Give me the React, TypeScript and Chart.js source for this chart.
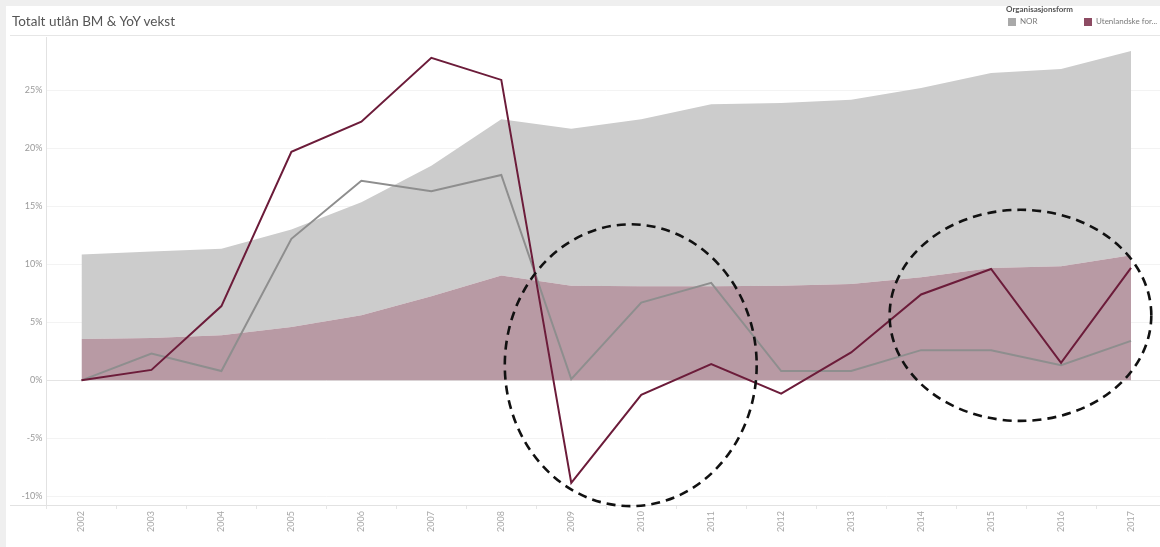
import React, { useEffect, useRef } from "react";
import { Chart, registerables } from "chart.js";

Chart.register(...registerables);

// Years on the category axis
const years = [
  "2002", "2003", "2004", "2005", "2006", "2007", "2008", "2009",
  "2010", "2011", "2012", "2013", "2014", "2015", "2016", "2017",
];

// Year-on-year growth in lending (%)
const norGrowth = [0, 2.3, 0.8, 12.2, 17.2, 16.3, 17.7, 0.1, 6.7, 8.4, 0.8, 0.8, 2.6, 2.6, 1.3, 3.4];
const foreignGrowth = [0, 0.9, 6.4, 19.7, 22.3, 27.8, 25.9, -8.85, -1.25, 1.4, -1.15, 2.4, 7.4, 9.6, 1.5, 9.7];

// Total lending (stacked areas), expressed in the growth axis units
const foreignLending = [3.57, 3.65, 3.88, 4.6, 5.6, 7.24, 9.03, 8.16, 8.1, 8.1, 8.16, 8.3, 8.88, 9.69, 9.83, 10.78];
const norLending = [7.27, 7.45, 7.47, 8.4, 9.75, 11.26, 13.47, 13.54, 14.4, 15.7, 15.74, 15.9, 16.32, 16.81, 17.02, 17.62];

// Axis ticks (%)
const yTicks = [-10, -5, 0, 5, 10, 15, 20, 25];
const yMin = -10.75;
const yMax = 29.6;

// Series names
const seriesNames = ["NOR", "Utenlandske foretak"];
const legendTitle = "Organisasjonsform";
const legendLabels = ["NOR", "Utenlandske for..."];
const chartTitle = "Totalt utlån BM & YoY vekst";

// Dashed highlight rings, in data units (category index, percent)
const highlightRings = [
  { x: 7.85, y: 1.3, rx: 1.8, ry: 12.15 },
  { x: 13.42, y: 5.6, rx: 1.87, ry: 9.1 },
];

const COLORS = {
  norArea: "#cccccc",
  foreignArea: "#b89aa4",
  norLine: "#8e8e8e",
  foreignLine: "#6c1c3a",
  norSwatch: "#a9a9a9",
  foreignSwatch: "#8d4b63",
};

const FONT = "Lato, 'Noto Sans', sans-serif";

const ringsPlugin = {
  id: "highlightRings",
  afterDatasetsDraw(chart: any) {
    const { ctx, scales } = chart;
    const x = scales.x;
    const y = scales.y;
    ctx.save();
    ctx.strokeStyle = "#111111";
    ctx.lineWidth = 2.6;
    ctx.setLineDash([9, 6]);
    for (const r of highlightRings) {
      const cx = x.getPixelForValue(r.x);
      const cy = y.getPixelForValue(r.y);
      const rx = Math.abs(x.getPixelForValue(r.x + r.rx) - cx);
      const ry = Math.abs(y.getPixelForValue(r.y + r.ry) - cy);
      ctx.beginPath();
      ctx.ellipse(cx, cy, rx, ry, 0, 0, Math.PI * 2);
      ctx.stroke();
    }
    ctx.restore();
  },
  afterDraw(chart: any) {
    // baseline continues under the axis header
    const { ctx, chartArea } = chart;
    ctx.save();
    ctx.strokeStyle = "#e2e2e2";
    ctx.lineWidth = 1;
    ctx.beginPath();
    ctx.moveTo(10, Math.round(chartArea.bottom) + 0.5);
    ctx.lineTo(chartArea.left, Math.round(chartArea.bottom) + 0.5);
    ctx.stroke();
    ctx.restore();
  },
};

export default function App() {
  const canvasRef = useRef<HTMLCanvasElement | null>(null);

  useEffect(() => {
    if (!canvasRef.current) return;
    const chart = new Chart(canvasRef.current, {
      type: "line",
      data: {
        labels: years,
        datasets: [
          {
            label: seriesNames[1] + " YoY",
            data: foreignGrowth,
            borderColor: COLORS.foreignLine,
            borderWidth: 2,
            pointRadius: 0,
            tension: 0,
            fill: false,
            yAxisID: "y",
            order: 0,
          },
          {
            label: seriesNames[0] + " YoY",
            data: norGrowth,
            borderColor: COLORS.norLine,
            borderWidth: 2,
            pointRadius: 0,
            tension: 0,
            fill: false,
            yAxisID: "y",
            order: 1,
          },
          {
            label: seriesNames[1],
            data: foreignLending,
            borderWidth: 0,
            borderColor: "rgba(0,0,0,0)",
            backgroundColor: COLORS.foreignArea,
            pointRadius: 0,
            tension: 0,
            fill: "origin",
            yAxisID: "yArea",
            order: 2,
          },
          {
            label: seriesNames[0],
            data: norLending,
            borderWidth: 0,
            borderColor: "rgba(0,0,0,0)",
            backgroundColor: COLORS.norArea,
            pointRadius: 0,
            tension: 0,
            fill: "-1",
            yAxisID: "yArea",
            order: 3,
          },
        ],
      },
      options: {
        animation: false,
        responsive: false,
        maintainAspectRatio: false,
        layout: { padding: { top: 37, left: 0, right: 0, bottom: 0 } },
        plugins: {
          legend: { display: false },
          title: { display: false },
          tooltip: { enabled: false },
        },
        scales: {
          x: {
            type: "category",
            offset: true,
            grid: {
              display: true,
              offset: true,
              drawOnChartArea: false,
              drawTicks: true,
              tickLength: 4,
              color: "#e6e6e6",
            },
            border: { display: true, color: "#e2e2e2" },
            ticks: {
              autoSkip: false,
              minRotation: 90,
              maxRotation: 90,
              padding: 2,
              color: "#a8a8a8",
              font: { family: FONT, size: 9 },
            },
            afterFit: (s: any) => {
              s.height = 42;
              s.paddingLeft = 0;
              s.paddingRight = 0;
            },
          },
          y: {
            type: "linear",
            position: "left",
            min: yMin,
            max: yMax,
            afterBuildTicks: (s: any) => {
              s.ticks = yTicks.map((v) => ({ value: v }));
            },
            ticks: {
              callback: (v: any) => `${v}%`,
              padding: 4,
              color: "#9a9a9a",
              font: { family: FONT, size: 9 },
            },
            grid: {
              drawTicks: false,
              color: (c: any) => (c.tick && c.tick.value === 0 ? "#e4e4e4" : "#f3f3f3"),
            },
            border: { display: true, color: "#e2e2e2" },
            afterFit: (s: any) => {
              s.width = 46.5;
              s.paddingTop = 0;
              s.paddingBottom = 0;
            },
          },
          yArea: {
            type: "linear",
            display: false,
            stacked: true,
            min: yMin,
            max: yMax,
          },
        },
      },
      plugins: [ringsPlugin],
    });
    return () => chart.destroy();
  }, []);

  return (
    <div
      style={{
        position: "absolute",
        left: 0,
        top: 0,
        width: 1160,
        height: 547,
        background: "#efefef",
        overflow: "hidden",
        fontFamily: FONT,
      }}
    >
      <div
        style={{
          position: "absolute",
          left: 6,
          top: 6,
          right: 0,
          bottom: 0,
          background: "#ffffff",
        }}
      />
      <div
        style={{
          position: "absolute",
          left: 10,
          right: 0,
          top: 35,
          height: 1,
          background: "#e6e6e6",
        }}
      />
      <canvas
        ref={canvasRef}
        width={1166}
        height={547}
        style={{ position: "absolute", left: 0, top: 0, width: 1166, height: 547 }}
      />
      <div
        style={{
          position: "absolute",
          left: 12,
          top: 13,
          fontSize: 13.5,
          lineHeight: "16px",
          color: "#555555",
          whiteSpace: "nowrap",
        }}
      >
        {chartTitle}
      </div>
      <div
        style={{
          position: "absolute",
          left: 1006,
          top: 4,
          fontSize: 8,
          lineHeight: "10px",
          fontWeight: 700,
          color: "#555555",
          whiteSpace: "nowrap",
        }}
      >
        {legendTitle}
      </div>
      {legendLabels.map((name, i) => (
        <div
          key={name}
          style={{
            position: "absolute",
            left: i === 0 ? 1008 : 1084,
            top: 17,
            height: 9,
            display: "flex",
            alignItems: "center",
            whiteSpace: "nowrap",
          }}
        >
          <span
            style={{
              display: "inline-block",
              width: 8,
              height: 8,
              background: i === 0 ? COLORS.norSwatch : COLORS.foreignSwatch,
              marginRight: 4,
            }}
          />
          <span style={{ fontSize: 8, lineHeight: "9px", color: "#7a7a7a" }}>{name}</span>
        </div>
      ))}
    </div>
  );
}
